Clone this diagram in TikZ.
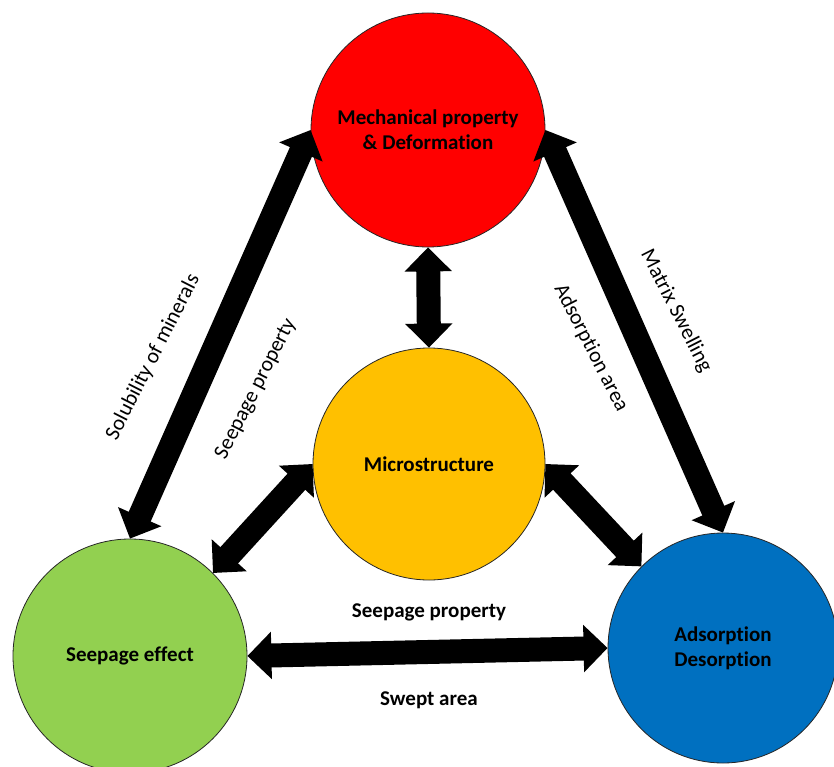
\documentclass[tikz,border=0pt]{standalone}
\usepackage{fontspec}
\setmainfont{Carlito}[Ligatures={NoCommon}]
\usetikzlibrary{arrows.meta}
\definecolor{cred}{HTML}{FF0000}
\definecolor{cyellow}{HTML}{FFC000}
\definecolor{cgreen}{HTML}{92D050}
\definecolor{cblue}{HTML}{0070C0}
\begin{document}
\begin{tikzpicture}[x=1pt,y=-1pt,
  ball/.style={circle, draw=black!85, line width=0.8pt, inner sep=0pt, align=center,
     font=\fontsize{21}{25}\selectfont\bfseries},
  bigarrow/.style={line width=24pt, draw=black,
     {Triangle[width=46pt,length=24pt]}-{Triangle[width=46pt,length=24pt]}},
  lab/.style={font=\fontsize{21.5}{23}\selectfont, inner sep=0pt},
  blab/.style={font=\fontsize{21}{23}\selectfont\bfseries, inner sep=0pt}]
\useasboundingbox (0,0) rectangle (834,767);
\node[ball, fill=cred, minimum size=234pt] (mech) at (428,130) {Mechanical property\\\& Deformation};
\node[ball, fill=cyellow, minimum size=232pt] (micro) at (429,464) {Microstructure};
\node[ball, fill=cgreen, minimum size=234pt] (seep) at (130,656) {Seepage effect};
\node[ball, fill=cblue, minimum size=230pt] (ads) at (723,648) {Adsorption\\Desorption};

\draw[bigarrow] (mech.west) -- (seep.north);
\draw[bigarrow] (mech.east) -- (ads.north);
\draw[bigarrow] (mech.south) -- (micro.north);
\draw[bigarrow] (micro.west) -- (seep.north east);
\draw[bigarrow] (micro.east) -- (ads.north west);
\draw[bigarrow] (seep.east) -- (ads.west);

\node[lab, rotate=63] (l1) at (153,357) {Solubility of minerals};
\node[lab, rotate=63] (l2) at (256,389) {Seepage property};
\node[lab, rotate=-63] (l3) at (591,348) {Adsorption area};
\node[lab, rotate=-63] (l4) at (676,311) {Matrix Swelling};
\node[blab] (l5) at (429,612) {Seepage property};
\node[blab] (l6) at (429,700) {Swept area};
\end{tikzpicture}
\end{document}
